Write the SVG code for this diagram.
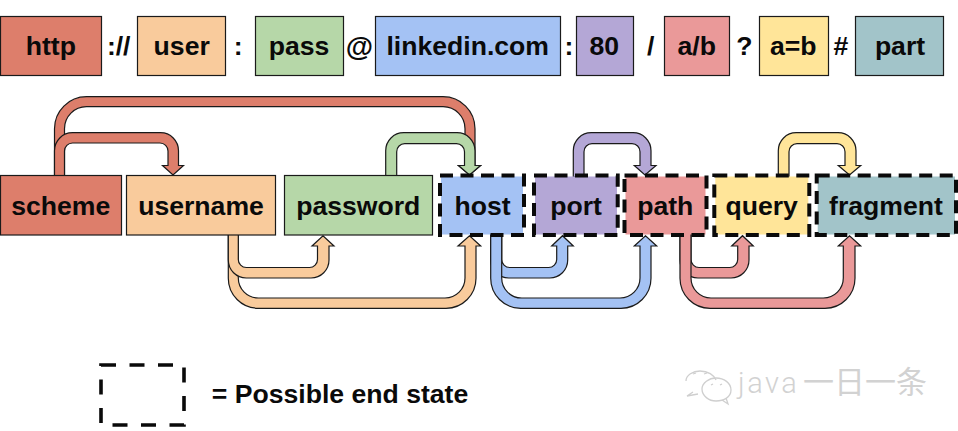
<svg xmlns="http://www.w3.org/2000/svg" width="958" height="431" viewBox="0 0 958 431">
<style>
text{font-family:"Liberation Sans",Arial,sans-serif;font-weight:bold;font-size:26.6px;fill:#0a0a0a;text-anchor:middle}
.box{stroke:#1a1a1a;stroke-width:1.2}
.dash{fill:none;stroke:#0a0a0a;stroke-width:4;stroke-dasharray:13 7.5}
.conn path{stroke:#1a1a1a;stroke-width:1.2}
.red{fill:#DD7E6B}.org{fill:#F9CB9C}.grn{fill:#B6D7A8}.blu{fill:#A4C2F4}.pur{fill:#B4A7D6}.pnk{fill:#EA9999}.yel{fill:#FFE599}.tea{fill:#A2C4C9}
.wm{fill:none;stroke:#cfcfcf;stroke-width:1.3}
.wt{font-weight:normal;fill:#d2d2d2;text-anchor:start}
</style>
<rect width="958" height="431" fill="#fff"/>
<g id="url-parts">
<g id="part-http"><rect class="box red" x="0.5" y="16.5" width="101" height="59"/><text x="50.8" y="55">http</text></g>
<g id="part-user"><rect class="box org" x="137.5" y="16.5" width="88" height="59"/><text x="181.7" y="55">user</text></g>
<g id="part-pass"><rect class="box grn" x="255.5" y="16.5" width="88" height="59"/><text x="299" y="55">pass</text></g>
<g id="part-host"><rect class="box blu" x="375.5" y="16.5" width="185" height="59"/><text x="467.7" y="55">linkedin.com</text></g>
<g id="part-port"><rect class="box pur" x="576.5" y="16.5" width="57" height="59"/><text x="604.3" y="55">80</text></g>
<g id="part-path"><rect class="box pnk" x="664.5" y="16.5" width="65" height="59"/><text x="696.7" y="55">a/b</text></g>
<g id="part-query"><rect class="box yel" x="759.5" y="16.5" width="69" height="59"/><text x="793.3" y="55">a=b</text></g>
<g id="part-fragment"><rect class="box tea" x="855.5" y="16.5" width="88" height="59"/><text x="900" y="55">part</text></g>
</g>
<g id="separators">
<text x="118.7" y="55">://</text>
<text x="238.3" y="55">:</text>
<text x="359.3" y="56" style="font-size:28px">@</text>
<text x="569" y="55">:</text>
<text x="650.7" y="55">/</text>
<text x="744.3" y="55">?</text>
<text x="841" y="55">#</text>
</g>
<g id="connectors" class="conn">
<path class="red" d="M54.5 177V128.7A32 32 0 0 1 86.5 96.7H443A32 32 0 0 1 475 128.7V165.5H480.5L469.5 175L458.5 165.5H465V128.7A22 22 0 0 0 443 106.7H86.5A22 22 0 0 0 64.5 128.7V177Z"/>
<path class="red" d="M54.5 177V150.7A18 18 0 0 1 72.5 132.7H160.5A18 18 0 0 1 178.5 150.7V165.5H183.5L173 175L162.5 165.5H168V151A8 8 0 0 0 160 143H72.5A8 8 0 0 0 64.5 151V177Z"/>
<path class="grn" d="M385.7 177V150.7A18 18 0 0 1 403.7 132.7H457A18 18 0 0 1 475 150.7V165.5H480.5L469.5 175L458.5 165.5H464.5V151.7A8 8 0 0 0 456.5 143.7H404.7A8 8 0 0 0 396.7 151.7V177Z"/>
<path class="pur" d="M573.3 177V150.7A18 18 0 0 1 591.3 132.7H633A18 18 0 0 1 651 150.7V165.5H656L645 175L634.3 165.5H640V151.7A8 8 0 0 0 632 143.7H592A8 8 0 0 0 584 151.7V177Z"/>
<path class="yel" d="M778.3 177V150.7A18 18 0 0 1 796.3 132.7H838A18 18 0 0 1 856 150.7V165.5H860.7L849.5 175L838.3 165.5H845V151.7A8 8 0 0 0 837 143.7H797A8 8 0 0 0 789 151.7V177Z"/>
<path class="org" d="M228.3 233V278.3A30 30 0 0 0 258.3 308.3H446A30 30 0 0 0 476 278.3V246H480.7L469.5 235.7L458 246H465V278A20 20 0 0 1 445 298H258.3A20 20 0 0 1 238.3 278V233Z"/>
<path class="org" d="M228.3 233V260A18 18 0 0 0 246.3 278H311A18 18 0 0 0 329 260V246H334L323 235.7L312 246H317.5V259.5A8 8 0 0 1 309.5 267.5H246.3A8 8 0 0 1 238.3 259.5V233Z"/>
<path class="blu" d="M490.7 233V260A18 18 0 0 0 508.7 278H549.7A18 18 0 0 0 567.7 260V246H573.3L562.5 235.7L551.7 246H556.7V259.5A8 8 0 0 1 548.7 267.5H509.7A8 8 0 0 1 501.7 259.5V233Z"/>
<path class="blu" d="M490.7 233V278.3A30 30 0 0 0 520.7 308.3H621A30 30 0 0 0 651 278.3V246H656.7L645.5 235.7L634.3 246H640V278A20 20 0 0 1 620 298H521.7A20 20 0 0 1 501.7 278V233Z"/>
<path class="pnk" d="M680 233V260A18 18 0 0 0 698 278H731A18 18 0 0 0 749 260V246H753.3L742.5 235.7L731.7 246H737.7V259.5A8 8 0 0 1 729.7 267.5H699A8 8 0 0 1 691 259.5V233Z"/>
<path class="pnk" d="M680 233V278.3A30 30 0 0 0 710 308.3H825A30 30 0 0 0 855 278.3V246H860.7L849.5 235.7L838.3 246H843.3V278A20 20 0 0 1 823.3 298H711A20 20 0 0 1 691 278V233Z"/>
</g>
<g id="scheme"><rect class="box red" x="0.5" y="175.5" width="121" height="59.5"/><text x="60.7" y="215">scheme</text></g>
<g id="username"><rect class="box org" x="126.5" y="175.5" width="149" height="59.5"/><text x="201" y="215">username</text></g>
<g id="password"><rect class="box grn" x="284.5" y="175.5" width="148" height="59.5"/><text x="358.3" y="215">password</text></g>
<g id="host"><rect class="blu" x="441" y="176.5" width="82" height="58"/><rect class="dash" x="440" y="175.5" width="84" height="59.5"/><text x="482.5" y="215">host</text></g>
<g id="port"><rect class="pur" x="535" y="176.5" width="82" height="58"/><rect class="dash" x="534" y="175.5" width="83.7" height="59.5"/><text x="576" y="215">port</text></g>
<g id="path"><rect class="pnk" x="625.5" y="176.5" width="80" height="58"/><rect class="dash" x="624.5" y="175.5" width="82" height="59.5"/><text x="665.3" y="215">path</text></g>
<g id="query"><rect class="yel" x="715.3" y="176.5" width="93" height="58"/><rect class="dash" x="714.3" y="175.5" width="95" height="59.5"/><text x="761.7" y="215">query</text></g>
<g id="fragment"><rect class="tea" x="817.7" y="176.5" width="137.3" height="58"/><rect class="dash" x="816.7" y="175.5" width="139.3" height="59.5"/><text x="886" y="215">fragment</text></g>
<g id="legend">
<rect x="101" y="365" width="83" height="60" fill="none" stroke="#0a0a0a" stroke-width="3.6" stroke-dasharray="15 13.5"/>
<text x="340" y="403">= Possible end state</text>
</g>
<g id="watermark">
<path class="wm" d="M686 381C686 375 693 371 700 371C708 371 714 375 716 380M693 392L687 396L698 394"/>
<path class="wm" d="M702 389C702 383 709 378 716 378C724 378 731 383 731 390C731 397 724 401 716 401C709 401 702 396 702 389ZM722 400L728 404L726 398"/>
<path class="wm" d="M693 374L696 373M704 374L707 373M711 385L713 384M720 385L722 384"/>
<text class="wt" x="738" y="393" style="font-family:Roboto,'Liberation Sans',sans-serif;font-size:29px;font-weight:300;letter-spacing:2.5px">java</text>
<text class="wt" x="803" y="393" style="font-family:'Noto Sans CJK SC','Noto Sans',sans-serif;font-size:31px">一日一条</text>
</g>
</svg>
